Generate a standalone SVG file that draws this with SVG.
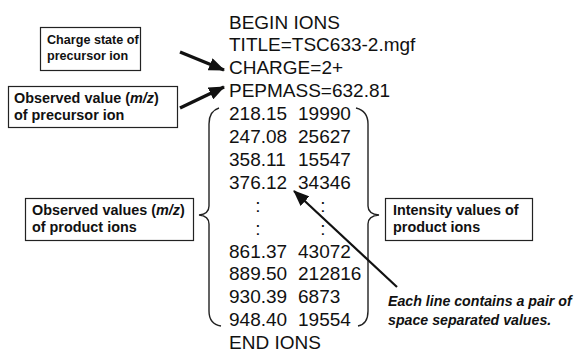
<svg xmlns="http://www.w3.org/2000/svg" width="577" height="353" viewBox="0 0 577 353">
<style>
.mono{font-family:"Liberation Sans",Arial,sans-serif;font-size:19px;fill:#111}
.box{fill:#fff;stroke:#222;stroke-width:1.2}
.lbl{font-family:"Liberation Sans",Arial,sans-serif;font-weight:bold;font-size:14.4px;fill:#111}
.lbls{font-family:"Liberation Sans",Arial,sans-serif;font-weight:bold;font-size:12.6px;fill:#111}
.note{font-family:"Liberation Sans",Arial,sans-serif;font-weight:bold;font-style:italic;font-size:14.2px;fill:#111}
.brace{fill:none;stroke:#222;stroke-width:1.4}
.arr{stroke:#111;fill:none}
</style>
<defs>
<marker id="ah" markerUnits="userSpaceOnUse" markerWidth="16" markerHeight="13" refX="15" refY="6.5" orient="auto">
<path d="M0,0 L16,6.5 L0,13 z" fill="#111"/>
</marker>
</defs>
<g id="file-text">
<text class="mono" x="229" y="28.5">BEGIN IONS</text>
<text class="mono" x="229" y="51.4">TITLE=TSC633-2.mgf</text>
<text class="mono" x="229" y="74.3">CHARGE=2+</text>
<text class="mono" x="229" y="97.2">PEPMASS=632.81</text>
<text class="mono" x="229" y="120.1">218.15</text><text class="mono" x="298" y="120.1">19990</text>
<text class="mono" x="229" y="143">247.08</text><text class="mono" x="298" y="143">25627</text>
<text class="mono" x="229" y="165.9">358.11</text><text class="mono" x="298" y="165.9">15547</text>
<text class="mono" x="229" y="188.8">376.12</text><text class="mono" x="298" y="188.8">34346</text>
<text class="mono" x="258" y="211.7" text-anchor="middle">:</text><text class="mono" x="323" y="211.7" text-anchor="middle">:</text>
<text class="mono" x="258" y="234.6" text-anchor="middle">:</text><text class="mono" x="323" y="234.6" text-anchor="middle">:</text>
<text class="mono" x="229" y="257.5">861.37</text><text class="mono" x="298" y="257.5">43072</text>
<text class="mono" x="229" y="280.4">889.50</text><text class="mono" x="298" y="280.4">212816</text>
<text class="mono" x="229" y="303.3">930.39</text><text class="mono" x="298" y="303.3">6873</text>
<text class="mono" x="229" y="326.2">948.40</text><text class="mono" x="298" y="326.2">19554</text>
<text class="mono" x="229" y="349">END IONS</text>
</g>
<g id="left-brace">
<path class="brace" d="M219,108 Q209,111 209,124 L209,206 Q209,214 199,215 Q209,216 209,224 L209,311 Q209,324 221,326"/>
</g>
<g id="right-brace">
<path class="brace" d="M356,108 Q368,111 368,124 L368,206 Q368,214 379,215 Q368,216 368,224 L368,311 Q368,324 358,326"/>
</g>
<g id="box-charge">
<rect class="box" x="40.5" y="27.5" width="100" height="43"/>
<text class="lbls" x="47" y="44">Charge state of</text>
<text class="lbls" x="47" y="60">precursor ion</text>
</g>
<g id="box-pepmass">
<rect class="box" x="8.5" y="86.5" width="169" height="41"/>
<text class="lbl" x="14" y="103">Observed value (<tspan font-style="italic">m/z</tspan>)</text>
<text class="lbl" x="14" y="120">of precursor ion</text>
</g>
<g id="box-product-mz">
<rect class="box" x="25.5" y="198.5" width="168" height="42"/>
<text class="lbl" x="32" y="215">Observed values (<tspan font-style="italic">m/z</tspan>)</text>
<text class="lbl" x="32" y="232">of product ions</text>
</g>
<g id="box-intensity">
<rect class="box" x="385.5" y="198.5" width="147" height="42"/>
<text class="lbl" x="393" y="215">Intensity values of</text>
<text class="lbl" x="393" y="232">product ions</text>
</g>
<g id="note">
<text class="note" x="388" y="306">Each line contains a pair of</text>
<text class="note" x="388" y="325">space separated values.</text>
</g>
<g id="connectors">
<line class="arr" x1="180" y1="52" x2="224" y2="70" stroke-width="3.4" marker-end="url(#ah)"/>
<line class="arr" x1="180" y1="108" x2="224" y2="87" stroke-width="3.4" marker-end="url(#ah)"/>
<line class="arr" x1="397" y1="287" x2="294" y2="191" stroke-width="2.2" marker-end="url(#ah)"/>
</g>
</svg>
